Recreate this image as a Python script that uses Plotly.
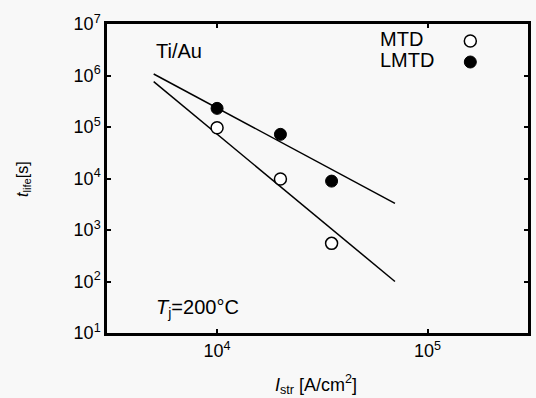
import plotly.graph_objects as go
import numpy as np

# Data
mtd_x = [1.0e4, 2.0e4, 3.5e4]
mtd_y = [9.7e4, 9.8e3, 5.5e2]
lmtd_x = [1.0e4, 2.0e4, 3.5e4]
lmtd_y = [2.3e5, 7.2e4, 8.9e3]

mtd_fit_x = [5.0e3, 7.0e4]
mtd_fit_y = [7.6e5, 1.0e2]
lmtd_fit_x = [5.0e3, 7.0e4]
lmtd_fit_y = [1.07e6, 3.3e3]

x_tickvals = [1e4, 1e5]
x_ticktext = ["10<sup>4</sup>", "10<sup>5</sup>"]
y_tickvals = [1e1, 1e2, 1e3, 1e4, 1e5, 1e6, 1e7]
y_ticktext = ["10<sup>%d</sup>" % k for k in range(1, 8)]

FONT = "Liberation Sans, Arial, sans-serif"
BG = "#f8f8f8"

fig = go.Figure()
fig.add_trace(go.Scatter(x=lmtd_fit_x, y=lmtd_fit_y, mode="lines",
                         line=dict(color="black", width=1.5), showlegend=False))
fig.add_trace(go.Scatter(x=mtd_fit_x, y=mtd_fit_y, mode="lines",
                         line=dict(color="black", width=1.5), showlegend=False))
fig.add_trace(go.Scatter(x=mtd_x, y=mtd_y, mode="markers", name="MTD",
                         marker=dict(symbol="circle", size=12, color="white",
                                     line=dict(color="black", width=1.5)),
                         showlegend=False))
fig.add_trace(go.Scatter(x=lmtd_x, y=lmtd_y, mode="markers", name="LMTD",
                         marker=dict(symbol="circle", size=12, color="black",
                                     line=dict(color="black", width=1)),
                         showlegend=False))

axis_common = dict(type="log", showgrid=False, zeroline=False, showline=True,
                   linecolor="black", linewidth=2.5, mirror="allticks",
                   ticks="inside", ticklen=4, tickwidth=2, tickcolor="black",
                   tickfont=dict(family=FONT, size=18, color="black"))

fig.update_xaxes(range=[np.log10(3000), np.log10(300000)],
                 tickvals=x_tickvals, ticktext=x_ticktext, **axis_common)
fig.update_yaxes(range=[1, 7], tickvals=y_tickvals, ticktext=y_ticktext,
                 **axis_common)

ann_font = dict(family=FONT, size=20, color="black")
annotations = [
    dict(x=0.111, y=0.912, text="Ti/Au", xanchor="left", yanchor="middle"),
    dict(x=0.111, y=0.078, text="<i>T</i><sub>j</sub>=200°C", xanchor="left", yanchor="middle"),
    dict(x=0.643, y=0.952, text="MTD", xanchor="left", yanchor="middle"),
    dict(x=0.643, y=0.885, text="LMTD", xanchor="left", yanchor="middle"),
    dict(x=0.496, y=-0.168, text="<i>I</i><sub>str</sub> [A/cm<sup>2</sup>]",
         xanchor="center", yanchor="middle", font=dict(family=FONT, size=18, color="black")),
    dict(x=-0.2, y=0.498, text="<i>t</i><sub>life</sub>[s]", textangle=-90,
         xanchor="center", yanchor="middle", font=dict(family=FONT, size=16, color="black")),
]
for a in annotations:
    a.setdefault("font", ann_font)
    a.update(xref="paper", yref="paper", showarrow=False)

# legend symbols (paper coordinates, pixel sized)
shapes = [
    dict(type="circle", xref="paper", yref="paper", xsizemode="pixel", ysizemode="pixel",
         xanchor=0.863, yanchor=0.945, x0=-6, x1=6, y0=-6, y1=6,
         line=dict(color="black", width=1.5), fillcolor="white"),
    dict(type="circle", xref="paper", yref="paper", xsizemode="pixel", ysizemode="pixel",
         xanchor=0.863, yanchor=0.877, x0=-6, x1=6, y0=-6, y1=6,
         line=dict(color="black", width=1), fillcolor="black"),
]

fig.update_layout(width=536, height=398,
                  margin=dict(l=107, r=5, t=24, b=65),
                  paper_bgcolor=BG, plot_bgcolor=BG,
                  annotations=annotations, shapes=shapes,
                  font=dict(family=FONT, color="black"))

fig.write_html("out.html",
               config={"displayModeBar": False},
               post_script="document.body.style.margin='0';document.body.style.padding='0';"
                           "document.documentElement.style.overflow='hidden';"
                           "document.body.style.background='%s';" % BG)
